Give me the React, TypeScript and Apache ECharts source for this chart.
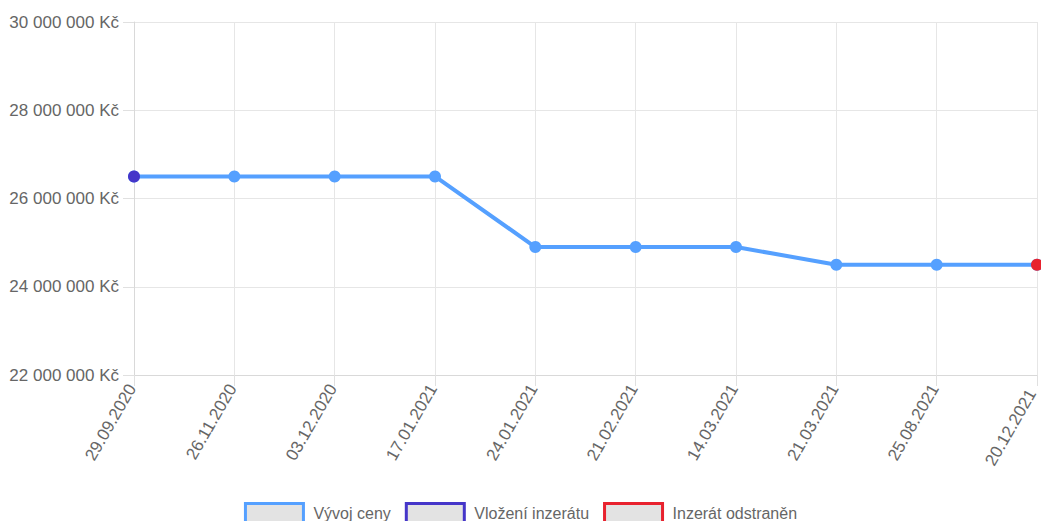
import React, { useEffect, useRef } from "react";
import * as echarts from "echarts";

const dates = [
  "29.09.2020",
  "26.11.2020",
  "03.12.2020",
  "17.01.2021",
  "24.01.2021",
  "21.02.2021",
  "14.03.2021",
  "21.03.2021",
  "25.08.2021",
  "20.12.2021",
];
const prices = [
  26500000, 26500000, 26500000, 26500000, 24900000, 24900000, 24900000, 24500000, 24500000, 24500000,
];
const seriesNames = ["Vývoj ceny", "Vložení inzerátu", "Inzerát odstraněn"];
const seriesColors = ["#55a0ff", "#4536c9", "#e8222e"];
const yMin = 22000000;
const yMax = 30000000;
const yStep = 2000000;

const FONT = "'Liberation Sans', Arial, Helvetica, sans-serif";

function fmt(v: number): string {
  const s = Math.round(v).toString();
  return s.replace(/\B(?=(\d{3})+(?!\d))/g, " ") + " Kč";
}

export default function App() {
  const ref = useRef<HTMLDivElement>(null);
  useEffect(() => {
    if (!ref.current) return;
    const chart = echarts.init(ref.current, undefined, { renderer: "svg" });
    const last = prices.length - 1;
    const startData = prices.map((p, i) => (i === 0 ? p : "-"));
    const endData = prices.map((p, i) => (i === last ? p : "-"));
    chart.setOption({
      animation: false,
      backgroundColor: "#ffffff",
      grid: {
        left: 134,
        right: 4,
        top: 22,
        bottom: 146,
        containLabel: false,
        outerBoundsMode: "none",
      },
      legend: {
        left: "center",
        top: 502,
        padding: 0,
        itemWidth: 58,
        itemHeight: 19,
        itemGap: 14,
        icon: "rect",
        textStyle: { color: "#666", fontSize: 16, fontFamily: FONT, padding: [0, 0, 0, 5] },
        data: seriesNames.map((n, i) => ({
          name: n,
          icon: "rect",
          itemStyle: { color: "#e3e3e3", borderColor: seriesColors[i], borderWidth: 3 },
        })),
      },
      xAxis: {
        type: "category",
        data: dates,
        boundaryGap: false,
        axisLine: { show: true, lineStyle: { color: "#d9d9d9", width: 1 } },
        axisTick: { show: true, length: 11, alignWithLabel: true, lineStyle: { color: "#e0e0e0" } },
        splitLine: { show: true, lineStyle: { color: "#e6e6e6", width: 1 } },
        axisLabel: {
          rotate: 60,
          color: "#666",
          fontSize: 17,
          fontFamily: FONT,
          margin: 7,
          padding: [0, 4, 0, 0],
          interval: 0,
          formatter: (v: string, i: number) => (i === last ? `{e|${v}}` : v),
          rich: {
            e: { color: "#666", fontSize: 17, fontFamily: FONT, padding: [0, 6, 0, 0] },
          },
        },
      },
      yAxis: {
        type: "value",
        min: yMin,
        max: yMax,
        interval: yStep,
        axisLine: { show: true, lineStyle: { color: "#d9d9d9", width: 1 } },
        axisTick: { show: true, length: 11, lineStyle: { color: "#e0e0e0" } },
        splitLine: { show: true, lineStyle: { color: "#e6e6e6", width: 1 } },
        axisLabel: {
          color: "#666",
          fontSize: 17,
          fontFamily: FONT,
          margin: 15,
          formatter: (v: number) => fmt(v),
        },
      },
      series: [
        {
          name: seriesNames[0],
          type: "line",
          data: prices,
          symbol: "circle",
          symbolSize: 12,
          showAllSymbol: true,
          clip: false,
          lineStyle: { color: seriesColors[0], width: 4 },
          itemStyle: { color: seriesColors[0] },
          z: 2,
        },
        {
          name: seriesNames[1],
          type: "line",
          data: startData,
          symbol: "circle",
          symbolSize: 12,
          showAllSymbol: true,
          clip: false,
          lineStyle: { width: 0 },
          itemStyle: { color: seriesColors[1] },
          z: 3,
        },
        {
          name: seriesNames[2],
          type: "line",
          data: endData,
          symbol: "circle",
          symbolSize: 12,
          showAllSymbol: true,
          clip: false,
          lineStyle: { width: 0 },
          itemStyle: { color: seriesColors[2] },
          z: 3,
        },
      ],
    });
    return () => chart.dispose();
  }, []);
  return (
    <div
      ref={ref}
      style={{ position: "fixed", left: 0, top: 0, width: 1041, height: 521 }}
    />
  );
}
